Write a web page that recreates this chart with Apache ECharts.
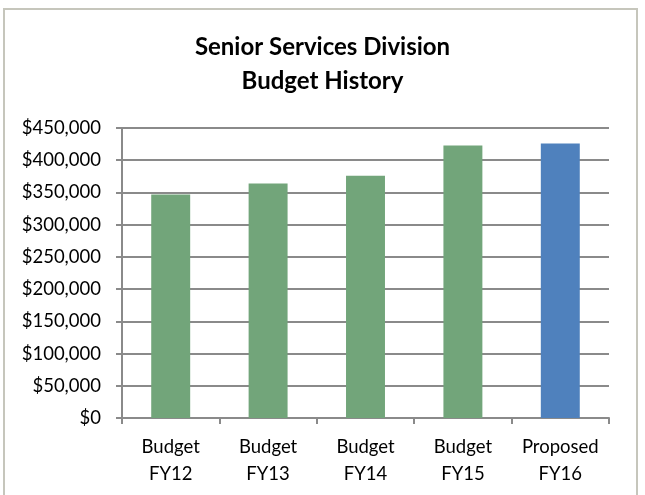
<!DOCTYPE html>
<html>
<head>
<meta charset="utf-8">
<script src="https://cdn.jsdelivr.net/npm/echarts@6/dist/echarts.min.js"></script>
<style>
  html, body { margin: 0; padding: 0; background: #ffffff; }
  #chart { width: 645px; height: 495px; }
</style>
</head>
<body>
<div id="chart"></div>
<script>
// Budget history categories (two-line labels)
const categories = ['Budget\nFY12', 'Budget\nFY13', 'Budget\nFY14', 'Budget\nFY15', 'Proposed\nFY16'];
// Budget amounts in dollars
const budgetValues = [347000, 364000, 376000, 423000, 426000];
// Fill per bar: adopted budgets green, proposed budget blue
const barColors = ['#72a57a', '#72a57a', '#72a57a', '#72a57a', '#4f81bd'];
// Y axis range
const yMin = 0, yMax = 450000, yStep = 50000;

const fontFamily = 'Lato, "Open Sans", sans-serif';
const chart = echarts.init(document.getElementById('chart'), null, { renderer: 'canvas' });

const fmtMoney = v => '$' + v.toLocaleString('en-US');

chart.setOption({
  animation: false,
  backgroundColor: '#ffffff',
  graphic: [{
    type: 'rect',
    shape: { x: 4, y: 9, width: 633, height: 500 },
    style: { fill: 'none', stroke: '#c6c6bc', lineWidth: 2 },
    silent: true
  }],
  title: {
    text: 'Senior Services Division\nBudget History',
    left: 'center',
    top: 25,
    textStyle: {
      fontFamily: fontFamily,
      fontWeight: 'bold',
      fontSize: 24,
      lineHeight: 34,
      color: '#000000'
    }
  },
  grid: { left: 122, right: 36, top: 128, bottom: 77, containLabel: false },
  xAxis: {
    type: 'category',
    data: categories,
    axisLine: { show: true, lineStyle: { color: '#8a8a8a', width: 2 } },
    axisTick: { show: true, length: 6, alignWithLabel: false, lineStyle: { color: '#8a8a8a', width: 2 } },
    axisLabel: {
      fontFamily: fontFamily,
      fontSize: 18.5,
      lineHeight: 27,
      color: '#000000',
      margin: 16,
      interval: 0
    }
  },
  yAxis: {
    type: 'value',
    min: yMin,
    max: yMax,
    interval: yStep,
    axisLine: { show: true, lineStyle: { color: '#8a8a8a', width: 2 } },
    axisTick: { show: true, length: 6, lineStyle: { color: '#8a8a8a', width: 2 } },
    splitLine: { show: true, lineStyle: { color: '#8a8a8a', width: 2 } },
    axisLabel: {
      fontFamily: fontFamily,
      fontSize: 18.5,
      color: '#000000',
      margin: 21,
      formatter: fmtMoney
    }
  },
  series: [{
    type: 'bar',
    data: budgetValues.map((v, i) => ({ value: v, itemStyle: { color: barColors[i] } })),
    barWidth: '40%'
  }]
});
</script>
</body>
</html>
